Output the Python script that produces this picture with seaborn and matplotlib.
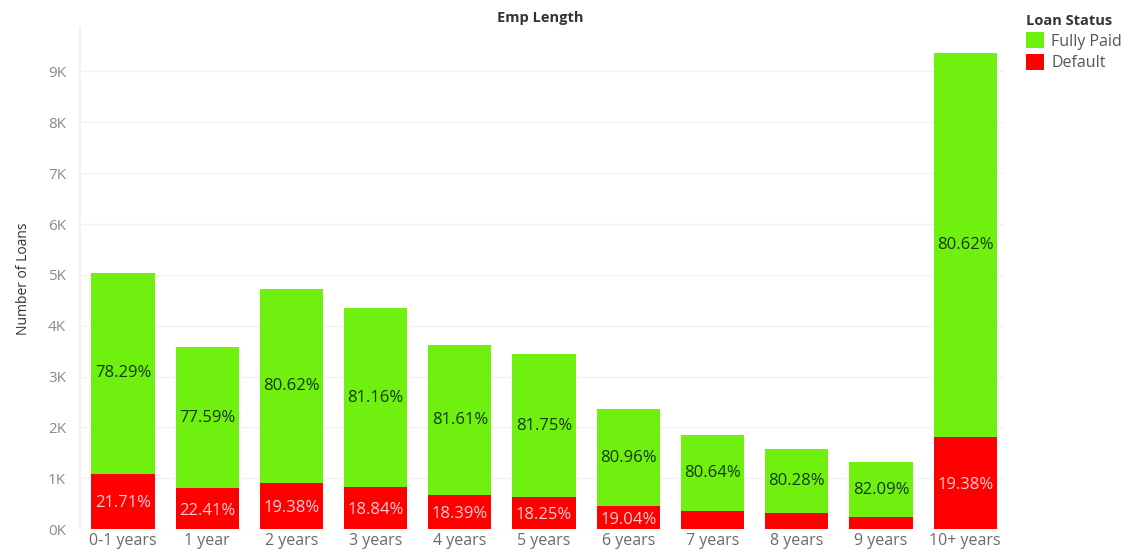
import matplotlib
matplotlib.use("Agg")
import matplotlib.pyplot as plt
from matplotlib.patches import Patch
from matplotlib.ticker import FuncFormatter, MultipleLocator
import seaborn as sns
import pandas as pd

categories = ["0-1 years", "1 year", "2 years", "3 years", "4 years", "5 years",
              "6 years", "7 years", "8 years", "9 years", "10+ years"]
fully_paid = [3938, 2778, 3805, 3522, 2962, 2812, 1911, 1492, 1260, 1084, 7554]
default = [1092, 802, 915, 818, 668, 628, 449, 358, 310, 236, 1816]
paid_labels = ["78.29%", "77.59%", "80.62%", "81.16%", "81.61%", "81.75%",
               "80.96%", "80.64%", "80.28%", "82.09%", "80.62%"]
default_labels = ["21.71%", "22.41%", "19.38%", "18.84%", "18.39%", "18.25%",
                  "19.04%", "", "", "", "19.38%"]

GREEN = "#70F00F"
RED = "#FF0000"

df = pd.DataFrame({"emp": categories, "paid": fully_paid, "default": default})
df["total"] = df["paid"] + df["default"]

sns.set_theme(style="white")
plt.rcParams["font.family"] = ["Open Sans", "DejaVu Sans"]

fig = plt.figure(figsize=(11.35, 5.54), dpi=100)
ax = fig.add_axes([0.0705, 0.045, 0.814, 0.904])

sns.barplot(data=df, x="emp", y="total", color=GREEN, saturation=1, width=0.75,
            linewidth=0, edgecolor="none", ax=ax)
sns.barplot(data=df, x="emp", y="default", color=RED, saturation=1, width=0.75,
            linewidth=0, edgecolor="none", ax=ax)

for i, row in df.iterrows():
    ax.text(i, row["default"] + row["paid"] / 2, paid_labels[i], ha="center", va="center",
            fontsize=12, color="#143a04")
    if default_labels[i]:
        ax.text(i, row["default"] / 2 - 40, default_labels[i], ha="center", va="center",
                fontsize=12, color="#ffd0d0")

ax.set_xlim(-0.51, 10.46)
ax.set_ylim(0, 9850)
ax.yaxis.set_major_locator(MultipleLocator(1000))
ax.yaxis.set_major_formatter(FuncFormatter(lambda v, p: f"{int(round(v / 1000))}K"))
ax.grid(axis="y", color="#f2f2f2", linewidth=1)
ax.set_axisbelow(True)
for s in ["top", "right", "bottom"]:
    ax.spines[s].set_visible(False)
ax.spines["left"].set_color("#f0f0f0")
ax.tick_params(axis="y", length=0, labelsize=11, labelcolor="#8a8a8a", pad=10)
ax.tick_params(axis="x", length=0, labelsize=11.5, labelcolor="#6a6a6a", pad=3)
ax.set_xlabel("")
ax.set_ylabel("Number of Loans", fontsize=10, color="#333333", labelpad=12)

fig.text(0.476, 0.968, "Emp Length", ha="center", va="center", fontsize=10.5,
         fontweight="bold", color="#333333")

handles = [Patch(facecolor=GREEN, edgecolor="none", label="Fully Paid"),
           Patch(facecolor=RED, edgecolor="none", label="Default")]
leg = fig.legend(handles=handles, title="Loan Status", loc="upper left",
                 bbox_to_anchor=(0.894, 0.995), frameon=False, fontsize=11.5,
                 title_fontsize=10.5, handlelength=1.15, handleheight=1.2,
                 handletextpad=0.45, labelspacing=0.25, alignment="left",
                 borderaxespad=0.3)
leg.get_title().set_fontweight("bold")
leg.get_title().set_color("#333333")
for t in leg.get_texts():
    t.set_color("#555555")

fig.savefig("out.png", dpi=100)
